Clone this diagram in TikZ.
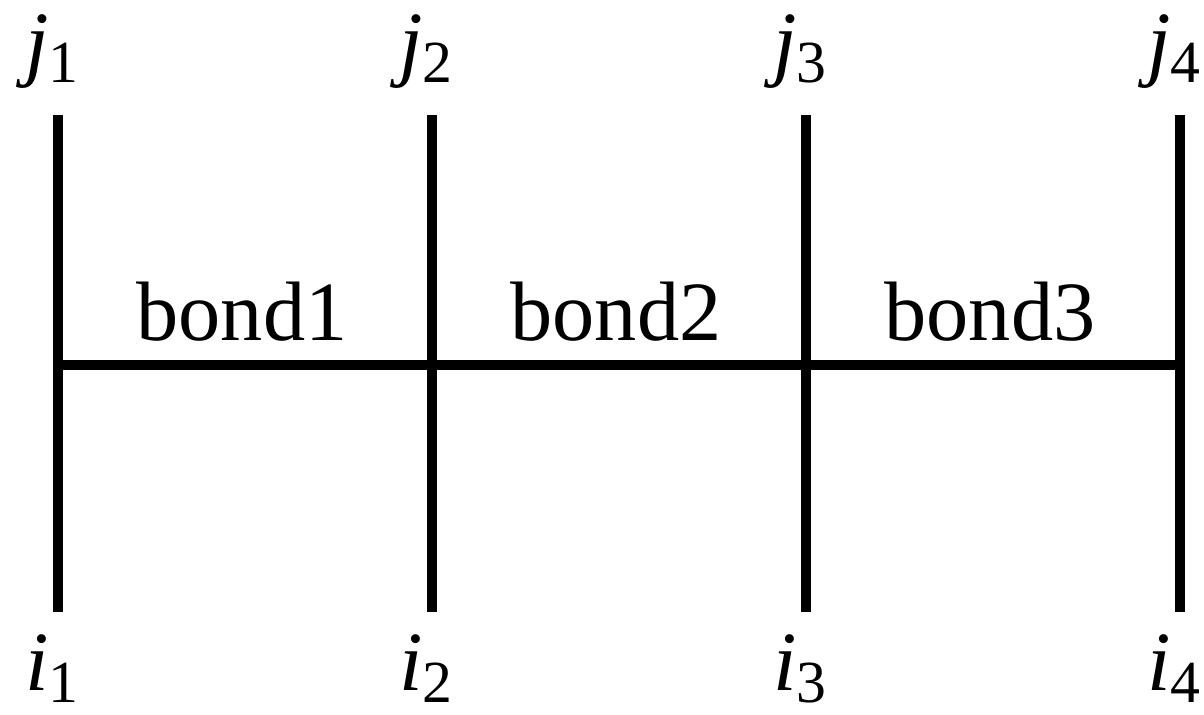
\documentclass[tikz,border=0pt]{standalone}
\usepackage{fontspec}
\setmainfont{Liberation Serif}
\usetikzlibrary{positioning}
\newcommand{\site}[2]{\textit{#1}\raisebox{-0.15em}{\fontsize{34}{34}\selectfont #2}}

\begin{document}
\begin{tikzpicture}[
  x=0.02cm,y=-0.02cm,
  every node/.style={font=\fontsize{48}{56}\selectfont,inner sep=0pt},
  bar/.style={line width=0.2cm},
  lbl/.style={anchor=base}
]
\useasboundingbox (0,0) rectangle (1204,714);
\coordinate (t1) at (58,115);
\coordinate (t2) at (432,115);
\coordinate (t3) at (806,115);
\coordinate (t4) at (1180,115);
\coordinate (b1) at (58,612);
\coordinate (b2) at (432,612);
\coordinate (b3) at (806,612);
\coordinate (b4) at (1180,612);
\coordinate (m1) at (58,365);
\coordinate (m4) at (1180,365);
\draw[bar] (t1) -- (b1);
\draw[bar] (t2) -- (b2);
\draw[bar] (t3) -- (b3);
\draw[bar] (t4) -- (b4);
\draw[bar] (m1) -- (m4);
\node[lbl] (j1) at (52,70) {\site{j}{1}};
\node[lbl] (j2) at (426,70) {\site{j}{2}};
\node[lbl] (j3) at (800,70) {\site{j}{3}};
\node[lbl] (j4) at (1174,70) {\site{j}{4}};
\node[lbl] (i1) at (52,690) {\site{i}{1}};
\node[lbl] (i2) at (426,690) {\site{i}{2}};
\node[lbl] (i3) at (800,690) {\site{i}{3}};
\node[lbl] (i4) at (1174,690) {\site{i}{4}};
\node[lbl] (bond1) at (242,340) {bond1};
\node[lbl] (bond2) at (616,340) {bond2};
\node[lbl] (bond3) at (990,340) {bond3};
\end{tikzpicture}
\end{document}
